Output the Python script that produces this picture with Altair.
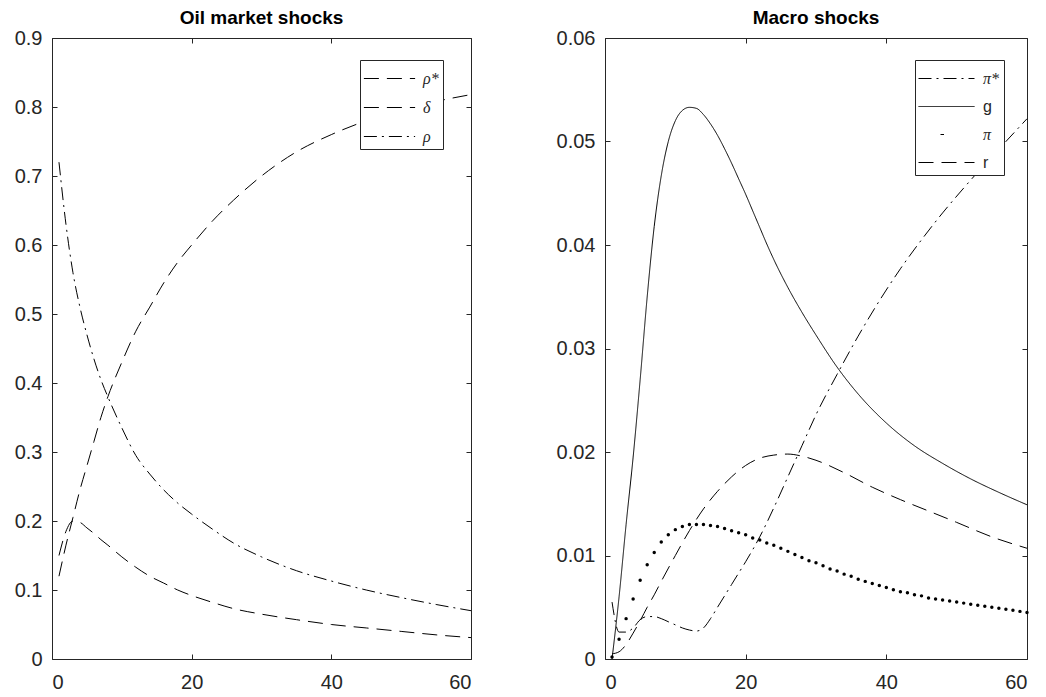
import altair as alt
import pandas as pd

# ---------------- data ----------------
T_OIL = [1, 2, 3, 4, 5, 6, 7, 8, 10, 12, 14, 16, 18, 20, 23, 26, 30, 35, 40, 45, 50, 55, 60]
RHO_STAR = [0.150, 0.185, 0.200, 0.198, 0.190, 0.182, 0.173, 0.165, 0.148, 0.133, 0.120, 0.110,
            0.100, 0.092, 0.082, 0.073, 0.065, 0.057, 0.050, 0.045, 0.040, 0.035, 0.031]
DELTA = [0.120, 0.165, 0.205, 0.245, 0.280, 0.315, 0.350, 0.380, 0.430, 0.475, 0.510, 0.545,
         0.575, 0.600, 0.635, 0.665, 0.700, 0.735, 0.760, 0.780, 0.795, 0.808, 0.818]
RHO = [0.720, 0.630, 0.560, 0.510, 0.470, 0.435, 0.405, 0.380, 0.335, 0.295, 0.268, 0.245,
       0.226, 0.210, 0.188, 0.168, 0.148, 0.128, 0.113, 0.100, 0.089, 0.079, 0.070]

T_G = [1, 2, 3, 4, 5, 6, 7, 8, 9, 10, 11, 12, 13, 14, 15, 16, 17, 18, 19, 20, 21, 22, 23, 24,
       26, 28, 30, 33, 36, 40, 44, 48, 52, 56, 60]
G = [0.0000, 0.0060, 0.0130, 0.0195, 0.0270, 0.0350, 0.0418, 0.0467, 0.0500, 0.0520, 0.0530, 0.0533,
     0.0532, 0.0526, 0.0517, 0.0506, 0.0493, 0.0479, 0.0464, 0.0449, 0.0433, 0.0417, 0.0401, 0.0386,
     0.0359, 0.0335, 0.0313, 0.0282, 0.0256, 0.0228, 0.0206, 0.0189, 0.0174, 0.0161, 0.0149]

T_PISTAR = [1, 2, 3, 4, 5, 6, 7, 8, 9, 10, 11, 12, 13, 14, 15, 16, 17, 18, 19, 20,
            22, 24, 26, 28, 30, 33, 36, 39, 42, 45, 48, 51, 54, 57, 60]
PISTAR = [0.0055, 0.0026, 0.0026, 0.0030, 0.0038, 0.0041, 0.0041, 0.0039, 0.0036, 0.0033,
          0.0030, 0.0028, 0.0027, 0.0030, 0.0039, 0.0050, 0.0061, 0.0072, 0.0083, 0.0094,
          0.0118, 0.0146, 0.0176, 0.0206, 0.0236, 0.0275, 0.0312, 0.0346, 0.0377, 0.0405,
          0.0431, 0.0455, 0.0478, 0.0500, 0.0522]

T_R = [1, 2, 3, 4, 5, 6, 7, 8, 10, 12, 14, 16, 18, 20, 22, 24, 26, 28, 30, 34, 38, 42, 46, 50, 55, 60]
R = [0.0005, 0.0007, 0.0014, 0.0025, 0.0037, 0.0050, 0.0062, 0.0075, 0.0100, 0.0124, 0.0145, 0.0162,
     0.0176, 0.0187, 0.0194, 0.0197, 0.0198, 0.0196, 0.0192, 0.0180, 0.0166, 0.0154, 0.0143, 0.0132,
     0.0118, 0.0107]

T_PI = list(range(1, 61))
PI = [0.0002, 0.0019, 0.0039, 0.0058, 0.0076, 0.0091, 0.0103, 0.0113, 0.0120, 0.0125,
      0.0128, 0.0130, 0.0130, 0.0130, 0.0129, 0.0128, 0.0126, 0.0124, 0.0122, 0.0120,
      0.0117, 0.0115, 0.0112, 0.0110, 0.0107, 0.0104, 0.0101, 0.0098, 0.0095, 0.0093,
      0.0090, 0.0087, 0.0085, 0.0082, 0.0080, 0.0077, 0.0075, 0.0073, 0.0071, 0.0069,
      0.0067, 0.0065, 0.0064, 0.0062, 0.0061, 0.0059, 0.0058, 0.0057, 0.0056, 0.0055,
      0.0054, 0.0053, 0.0052, 0.0051, 0.0050, 0.0049, 0.0048, 0.0047, 0.0046, 0.0045]

OIL_NAMES = ["ρ*", "δ", "ρ"]
MACRO_NAMES = ["π*", "g", "π", "r"]
X_TICKS = [0, 20, 40, 60]
OIL_TICKS = [0, 0.1, 0.2, 0.3, 0.4, 0.5, 0.6, 0.7, 0.8, 0.9]
MACRO_TICKS = [0, 0.01, 0.02, 0.03, 0.04, 0.05, 0.06]

# ---------------- styling ----------------
AXC = "#262626"
FONT = "Liberation Sans"
SERIF = "Liberation Serif"
TICK_FS = 20
TITLE_FS = 19
DASH = [15, 8]
DASHDOT = [13, 5, 2, 5]


def long(t, v, name):
    return pd.DataFrame({"t": t, "v": v, "series": name})


oil_df = pd.concat([long(T_OIL, RHO_STAR, "ρ*"), long(T_OIL, DELTA, "δ"), long(T_OIL, RHO, "ρ")])
macro_lines = pd.concat([long(T_PISTAR, PISTAR, "π*"), long(T_G, G, "g"), long(T_R, R, "r")])
macro_dots = long(T_PI, PI, "π")


def x_axis(orient, labels):
    return alt.Axis(orient=orient, values=X_TICKS, labels=labels, domain=False, grid=False,
                    tickSize=5, offset=-5, tickColor=AXC, tickWidth=1, labelColor=AXC,
                    labelFont=FONT, labelFontSize=TICK_FS, labelPadding=13, title=None)


def y_axis(orient, labels, ticks):
    return alt.Axis(orient=orient, values=ticks, labels=labels, domain=False, grid=False,
                    tickSize=5, offset=-5, tickColor=AXC, tickWidth=1, labelColor=AXC,
                    labelFont=FONT, labelFontSize=TICK_FS, labelPadding=10, format="~g", title=None)


def legend_common(x, y, path, sym_off, lab_off, row_pad, **kw):
    return alt.Legend(title=None, orient="none", legendX=x, legendY=y,
                      symbolType=path, symbolSize=784, symbolStrokeColor="black",
                      labelColor=AXC, labelFontSize=16, strokeColor=AXC, fillColor="white",
                      padding=4, rowPadding=row_pad, labelOffset=lab_off, symbolOffset=sym_off, **kw)


# ---------------- left panel ----------------
xs = alt.Scale(domain=[0, 60], nice=False, zero=False)
ys_oil = alt.Scale(domain=[0, 0.9], nice=False)

oil_lines = alt.Chart(oil_df).mark_line(color="black", strokeWidth=1, interpolate="monotone").encode(
    x=alt.X("t:Q", scale=xs, axis=x_axis("bottom", True)),
    y=alt.Y("v:Q", scale=ys_oil, axis=y_axis("left", True, OIL_TICKS)),
    strokeDash=alt.StrokeDash(
        "series:N",
        scale=alt.Scale(domain=OIL_NAMES, range=[DASH, DASH, DASHDOT]),
        legend=legend_common(308, 22, "M-1.83,0H1.83", 11, 19, 6,
                             labelFont=SERIF, labelFontStyle="italic", symbolStrokeWidth=1),
    ),
    detail="series:N",
)
oil_mirror = alt.Chart(oil_df).mark_point(opacity=0).encode(
    x=alt.X("t:Q", scale=xs, axis=x_axis("top", False)),
    y=alt.Y("v:Q", scale=ys_oil, axis=y_axis("right", False, OIL_TICKS)),
)
left = alt.layer(oil_lines, oil_mirror).resolve_axis(x="independent", y="independent").properties(
    width=419, height=621,
    title=alt.Title("Oil market shocks", font=FONT, fontSize=TITLE_FS, fontWeight="bold", color="black",
                    offset=0, anchor="middle"),
)

# ---------------- right panel ----------------
ys_mac = alt.Scale(domain=[0, 0.06], nice=False)
dash_scale = alt.Scale(domain=MACRO_NAMES, range=[DASHDOT, [1, 0], [0, 22, 3.5, 100], DASH])
width_scale = alt.Scale(domain=MACRO_NAMES, range=[1, 1, 3.5, 1])
mac_legend = legend_common(
    310, 22, "M-2.0,0H2.0", 13, 22, 5,
    labelFont={"expr": "datum.label == 'g' || datum.label == 'r' ? 'Liberation Sans' : 'Liberation Serif'"},
    labelFontStyle={"expr": "datum.label == 'g' || datum.label == 'r' ? 'normal' : 'italic'"},
)

mac_lines = alt.Chart(macro_lines).mark_line(color="black", interpolate="monotone").encode(
    x=alt.X("t:Q", scale=xs, axis=x_axis("bottom", True)),
    y=alt.Y("v:Q", scale=ys_mac, axis=y_axis("left", True, MACRO_TICKS)),
    strokeDash=alt.StrokeDash("series:N", scale=dash_scale, legend=mac_legend),
    strokeWidth=alt.StrokeWidth("series:N", scale=width_scale, legend=mac_legend),
    detail="series:N",
)
mac_dots = alt.Chart(macro_dots).mark_circle(color="black", size=12, opacity=1).encode(
    x=alt.X("t:Q", scale=xs, axis=None),
    y=alt.Y("v:Q", scale=ys_mac, axis=None),
)
mac_mirror = alt.Chart(macro_lines).mark_point(opacity=0).encode(
    x=alt.X("t:Q", scale=xs, axis=x_axis("top", False)),
    y=alt.Y("v:Q", scale=ys_mac, axis=y_axis("right", False, MACRO_TICKS)),
)
right = alt.layer(mac_lines, mac_dots, mac_mirror).resolve_axis(x="independent", y="independent").properties(
    width=422, height=621,
    title=alt.Title("Macro shocks", font=FONT, fontSize=TITLE_FS, fontWeight="bold", color="black",
                    offset=0, anchor="middle"),
)

chart = (
    alt.hconcat(left, right, spacing=134, bounds="flush")
    .resolve_scale(strokeDash="independent", strokeWidth="independent")
    .properties(padding={"left": 13, "top": 8, "right": 5, "bottom": 2}, background="white")
    .configure_view(stroke=AXC, strokeWidth=1)
    .configure_axis(grid=False)
)

chart.save("out.html", embed_options={"renderer": "svg", "actions": False})
